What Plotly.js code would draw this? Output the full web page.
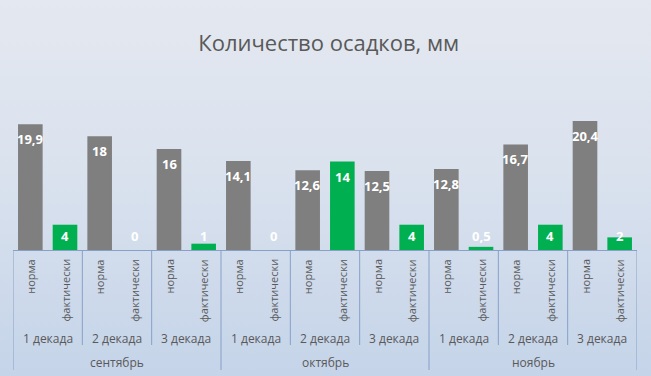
<!DOCTYPE html>
<html>
<head>
<meta charset="utf-8">
<script src="https://cdn.plot.ly/plotly-3.0.1.min.js"></script>
<style>
  html, body { margin: 0; padding: 0; }
  body { width: 651px; height: 376px; overflow: hidden;
    background: linear-gradient(to bottom, #e4e8f0 0%, #dae2ee 45%, #c5d4e9 100%); }
  #chart { width: 651px; height: 376px; }
</style>
</head>
<body>
<div id="chart"></div>
<script>
// ---- data ----
const months = ['сентябрь', 'октябрь', 'ноябрь'];
const decades = ['1 декада', '2 декада', '3 декада'];
const kinds = ['норма', 'фактически'];
const normValues = [19.9, 18, 16, 14.1, 12.6, 12.5, 12.8, 16.7, 20.4];
const actualValues = [4, 0, 1, 0, 14, 4, 0.5, 4, 2];

// ---- styling ----
const grey = '#7f7f7f';
const green = '#00b050';
const lineCol = '#86a0c8';
const textCol = '#595959';
const font = 'Open Sans, Noto Sans, sans-serif';
const M = { l: 13, r: 14, t: 92, b: 126 };
const plotH = 376 - M.t - M.b;
const pf = px => -px / plotH; // pixels below baseline -> paper fraction

const nGroups = normValues.length;
const normX = normValues.map((_, i) => 2 * i);
const actX = actualValues.map((_, i) => 2 * i + 1);

const fmt = v => String(v).replace('.', ',');

const traces = [
  { type: 'bar', x: normX, y: normValues, name: kinds[0], width: 0.71,
    marker: { color: grey }, hoverinfo: 'y' },
  { type: 'bar', x: actX, y: actualValues, name: kinds[1], width: 0.71,
    marker: { color: green }, hoverinfo: 'y' }
];

const annotations = [];
const shapes = [];

// data labels
function addLabel(x, v) {
  const big = v >= 4.6;
  annotations.push({
    x: x, y: big ? v : 0, xref: 'x', yref: 'y',
    text: '<b>' + fmt(v) + '</b>', showarrow: false,
    yanchor: 'middle', xanchor: 'center',
    yshift: big ? -15 : 14,
    font: { family: font, size: 13, color: '#ffffff' }
  });
}
normValues.forEach((v, i) => addLabel(normX[i], v));
actualValues.forEach((v, i) => addLabel(actX[i], v));

// category level 1 (rotated)
for (let i = 0; i < nGroups; i++) {
  [normX[i], actX[i]].forEach((x, k) => {
    annotations.push({
      x: x, y: 0, xref: 'x', yref: 'paper', yshift: -7,
      text: kinds[k], showarrow: false, textangle: -90,
      xanchor: 'center', yanchor: 'top',
      font: { family: font, size: 11, color: textCol }
    });
  });
}
// category level 2 (decades)
for (let i = 0; i < nGroups; i++) {
  annotations.push({
    x: 2 * i + 0.5, y: pf(88), xref: 'x', yref: 'paper',
    text: decades[i % 3], showarrow: false,
    xanchor: 'center', yanchor: 'middle',
    font: { family: font, size: 12, color: textCol }
  });
}
// category level 3 (months)
months.forEach((m, j) => {
  annotations.push({
    x: 6 * j + 2.5, y: pf(112), xref: 'x', yref: 'paper',
    text: m, showarrow: false,
    xanchor: 'center', yanchor: 'middle',
    font: { family: font, size: 12, color: textCol }
  });
});

// divider lines
for (let i = 0; i <= nGroups; i++) {
  const isMonth = i % 3 === 0;
  shapes.push({
    type: 'line', xref: 'x', yref: 'paper',
    x0: 2 * i - 0.5, x1: 2 * i - 0.5,
    y0: 0, y1: pf(isMonth ? 120 : 95),
    line: { color: lineCol, width: 1 }
  });
}

const layout = {
  width: 651, height: 376,
  margin: M,
  paper_bgcolor: 'rgba(0,0,0,0)',
  plot_bgcolor: 'rgba(0,0,0,0)',
  barmode: 'overlay',
  showlegend: false,
  title: { text: 'Количество осадков, мм', x: 0.505, xanchor: 'center',
    y: 1 - 43 / 376, yanchor: 'middle', yref: 'container',
    font: { family: font, size: 22, color: textCol } },
  xaxis: { range: [-0.5, 2 * nGroups - 0.5], showticklabels: false,
    showgrid: false, zeroline: false, showline: true, linecolor: lineCol,
    linewidth: 1, ticks: '', fixedrange: true },
  yaxis: { range: [0, 25], visible: false, fixedrange: true },
  annotations: annotations,
  shapes: shapes
};

Plotly.newPlot('chart', traces, layout, { displayModeBar: false, staticPlot: true });
</script>
</body>
</html>
